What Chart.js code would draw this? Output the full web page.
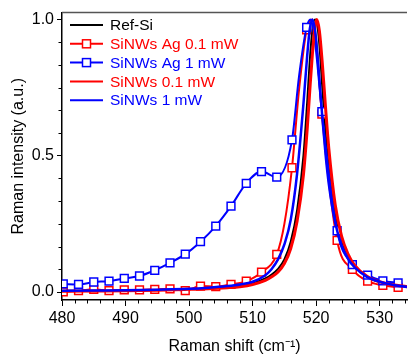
<!DOCTYPE html>
<html>
<head>
<meta charset="utf-8">
<script src="https://cdn.jsdelivr.net/npm/chart.js@4/dist/chart.umd.min.js"></script>
<style>
  html, body { margin: 0; padding: 0; background: #fff; }
</style>
</head>
<body>
<canvas id="raman" width="414" height="356"></canvas>
<script>
// Raman-Spektren, normiert auf 1
const seriesNames = ['Ref-Si', 'SiNWs Ag 0.1 mW', 'SiNWs Ag 1 mW', 'SiNWs 0.1 mW', 'SiNWs 1 mW'];
const red = '#ff0000';
const blue = '#0000ff';

// Ag-Proben: Punkte mit Symbol
const agShift = [480.2, 482.6, 485.0, 487.4, 489.8, 492.2, 494.6, 497.0, 499.4, 501.8, 504.2, 506.6,
                 509.0, 511.4, 513.8, 516.2, 518.5, 520.9, 523.3, 525.7, 528.1, 530.5, 532.9];
const agRed  = [0.001, 0.005, 0.010, 0.005, 0.008, 0.008, 0.010, 0.012, 0.005, 0.022, 0.020, 0.028,
                0.040, 0.073, 0.138, 0.456, 0.962, 0.653, 0.190, 0.083, 0.040, 0.025, 0.017];
const agBlue = [0.030, 0.028, 0.037, 0.040, 0.050, 0.059, 0.080, 0.107, 0.139, 0.185, 0.242, 0.315,
                0.399, 0.442, 0.422, 0.558, 0.971, 0.662, 0.225, 0.101, 0.062, 0.041, 0.034];
// Zwischenpunkte an der Spitze (ohne Symbol)
const agRedPeakShift = [515.0, 517.3, 519.4, 520.0];
const agRedPeak = [0.25, 0.74, 1.0, 0.92];
const agBluePeakShift = [517.3, 519.1, 519.9];
const agBluePeak = [0.79, 1.0, 0.90];

// Referenz und SiNWs ohne Ag
const shift  = [480, 485, 490, 495, 500, 503, 506, 508, 510, 512, 513, 514, 515, 516, 517, 518, 518.6,
                519.0, 519.4, 519.8, 520.1, 520.5, 521, 521.5, 522, 523, 524, 525, 526, 528, 530, 532, 534.3];
const refSi  = [0.004, 0.005, 0.006, 0.008, 0.011, 0.014, 0.019, 0.024, 0.032, 0.050, 0.064, 0.085, 0.12,
                0.185, 0.30, 0.50, 0.70, 0.85, 0.96, 1.0, 0.99, 0.91, 0.74, 0.58, 0.45, 0.28, 0.185, 0.13,
                0.095, 0.056, 0.037, 0.027, 0.020];
const nwRed  = [0.003, 0.004, 0.005, 0.007, 0.010, 0.012, 0.016, 0.020, 0.028, 0.043, 0.056, 0.074, 0.105,
                0.16, 0.26, 0.43, 0.60, 0.74, 0.87, 0.97, 1.0, 0.96, 0.83, 0.67, 0.525, 0.32, 0.205, 0.14,
                0.10, 0.058, 0.038, 0.027, 0.020];
const nwBlue = [0.005, 0.006, 0.007, 0.009, 0.012, 0.016, 0.022, 0.028, 0.038, 0.062, 0.085, 0.12, 0.175,
                0.265, 0.434, 0.69, 0.87, 0.965, 1.0, 0.965, 0.90, 0.785, 0.633, 0.50, 0.395, 0.254, 0.172,
                0.123, 0.092, 0.056, 0.038, 0.027, 0.019];

const xTicks = [480, 490, 500, 510, 520, 530];
const yTicks = [0.0, 0.5, 1.0];

const font = { family: '"Liberation Sans", Arial, sans-serif', size: 16 };

function pts(xs, ys, marker) {
  return xs.map((x, i) => ({ x: x, y: ys[i], m: marker }));
}
function merge(a, b) {
  return a.concat(b).sort((p, q) => p.x - q.x);
}

function lineSet(label, data, color, width, order) {
  return {
    label: label, data: data, borderColor: color, borderWidth: width,
    pointRadius: 0, cubicInterpolationMode: 'monotone', order: order
  };
}
function symbolSet(label, data, color, order) {
  return {
    label: label, data: data, borderColor: color, borderWidth: 2,
    cubicInterpolationMode: 'monotone', order: order,
    pointStyle: 'rect',
    pointRadius: c => (c.raw && c.raw.m ? 5.5 : 0),
    pointBackgroundColor: '#fff', pointBorderColor: color, pointBorderWidth: 1.5
  };
}

// Kleine Striche zwischen den Hauptmarken + oberer Rahmen
const frame = {
  id: 'frame',
  afterDraw(chart) {
    const { ctx, chartArea: a, scales: { x, y } } = chart;
    ctx.save();
    ctx.strokeStyle = '#000';
    ctx.lineWidth = 1;
    ctx.beginPath();
    for (let v = 482; v < x.max; v += 2) {
      if (v % 10 === 0) continue;
      const p = Math.round(x.getPixelForValue(v)) + 0.5;
      ctx.moveTo(p, a.bottom); ctx.lineTo(p, a.bottom + 3.5);
    }
    for (let k = 1; k < 12; k++) {
      if (k % 6 === 0) continue;
      const p = Math.round(y.getPixelForValue(k / 12)) + 0.5;
      ctx.moveTo(a.left, p); ctx.lineTo(a.left - 3.5, p);
    }
    ctx.stroke();
    ctx.lineWidth = 1.5;
    ctx.strokeStyle = '#555';
    ctx.beginPath();
    ctx.moveTo(a.left, a.top); ctx.lineTo(a.right, a.top);
    ctx.stroke();
    ctx.restore();
  }
};

// Legende im Diagramm oben links
const legendBox = {
  id: 'legendBox',
  afterDraw(chart) {
    const ctx = chart.ctx;
    const colors = ['#000', red, blue, red, blue];
    const withSymbol = [false, true, true, false, false];
    ctx.save();
    ctx.font = '15.5px "Liberation Sans", Arial, sans-serif';
    ctx.textBaseline = 'middle';
    seriesNames.forEach((name, i) => {
      const yy = 25 + i * 18.8;
      ctx.strokeStyle = colors[i];
      ctx.lineWidth = 2;
      ctx.beginPath();
      ctx.moveTo(70, yy); ctx.lineTo(103, yy);
      ctx.stroke();
      if (withSymbol[i]) {
        ctx.fillStyle = '#fff';
        ctx.lineWidth = 1.5;
        ctx.fillRect(82.5, yy - 4, 8, 8);
        ctx.strokeRect(82.5, yy - 4, 8, 8);
      }
      ctx.fillStyle = colors[i];
      ctx.fillText(name, 110, yy + 1);
    });
    ctx.restore();
  }
};

new Chart(document.getElementById('raman'), {
  type: 'line',
  data: {
    datasets: [
      lineSet(seriesNames[0], pts(shift, refSi, false), '#000', 2, 5),
      symbolSet(seriesNames[1], merge(pts(agShift, agRed, true), pts(agRedPeakShift, agRedPeak, false)), red, 4),
      symbolSet(seriesNames[2], merge(pts(agShift, agBlue, true), pts(agBluePeakShift, agBluePeak, false)), blue, 3),
      lineSet(seriesNames[3], pts(shift, nwRed, false), red, 3, 2),
      lineSet(seriesNames[4], pts(shift, nwBlue, false), blue, 2.5, 1)
    ]
  },
  options: {
    responsive: false,
    animation: false,
    devicePixelRatio: 1,
    layout: { padding: { top: 10, right: 0, left: 0, bottom: 0 } },
    plugins: { legend: { display: false }, tooltip: { enabled: false } },
    scales: {
      x: {
        type: 'linear', min: 480, max: 534.3,
        afterBuildTicks: s => { s.ticks = xTicks.map(v => ({ value: v })); },
        afterFit: s => { s.height = 56; },
        ticks: { font: font, color: '#000', padding: 3, maxRotation: 0, callback: v => String(v) },
        grid: { drawOnChartArea: false, tickLength: 6, color: '#000' },
        border: { color: '#000', width: 1.5 },
        title: { display: true, text: 'Raman shift (cm⁻¹)', font: font, color: '#000', padding: { top: 0, bottom: 0 } }
      },
      y: {
        min: -0.029, max: 1.025,
        afterBuildTicks: s => { s.ticks = yTicks.map(v => ({ value: v })); },
        afterFit: s => { s.width = 62; },
        ticks: { font: font, color: '#000', padding: 3, callback: v => v.toFixed(1) },
        grid: { drawOnChartArea: false, tickLength: 5, color: '#000' },
        border: { color: '#000', width: 1.5 },
        title: { display: true, text: 'Raman intensity (a.u.)', font: font, color: '#000', padding: { top: 9, bottom: 0 } }
      }
    }
  },
  plugins: [frame, legendBox]
});
</script>
</body>
</html>
